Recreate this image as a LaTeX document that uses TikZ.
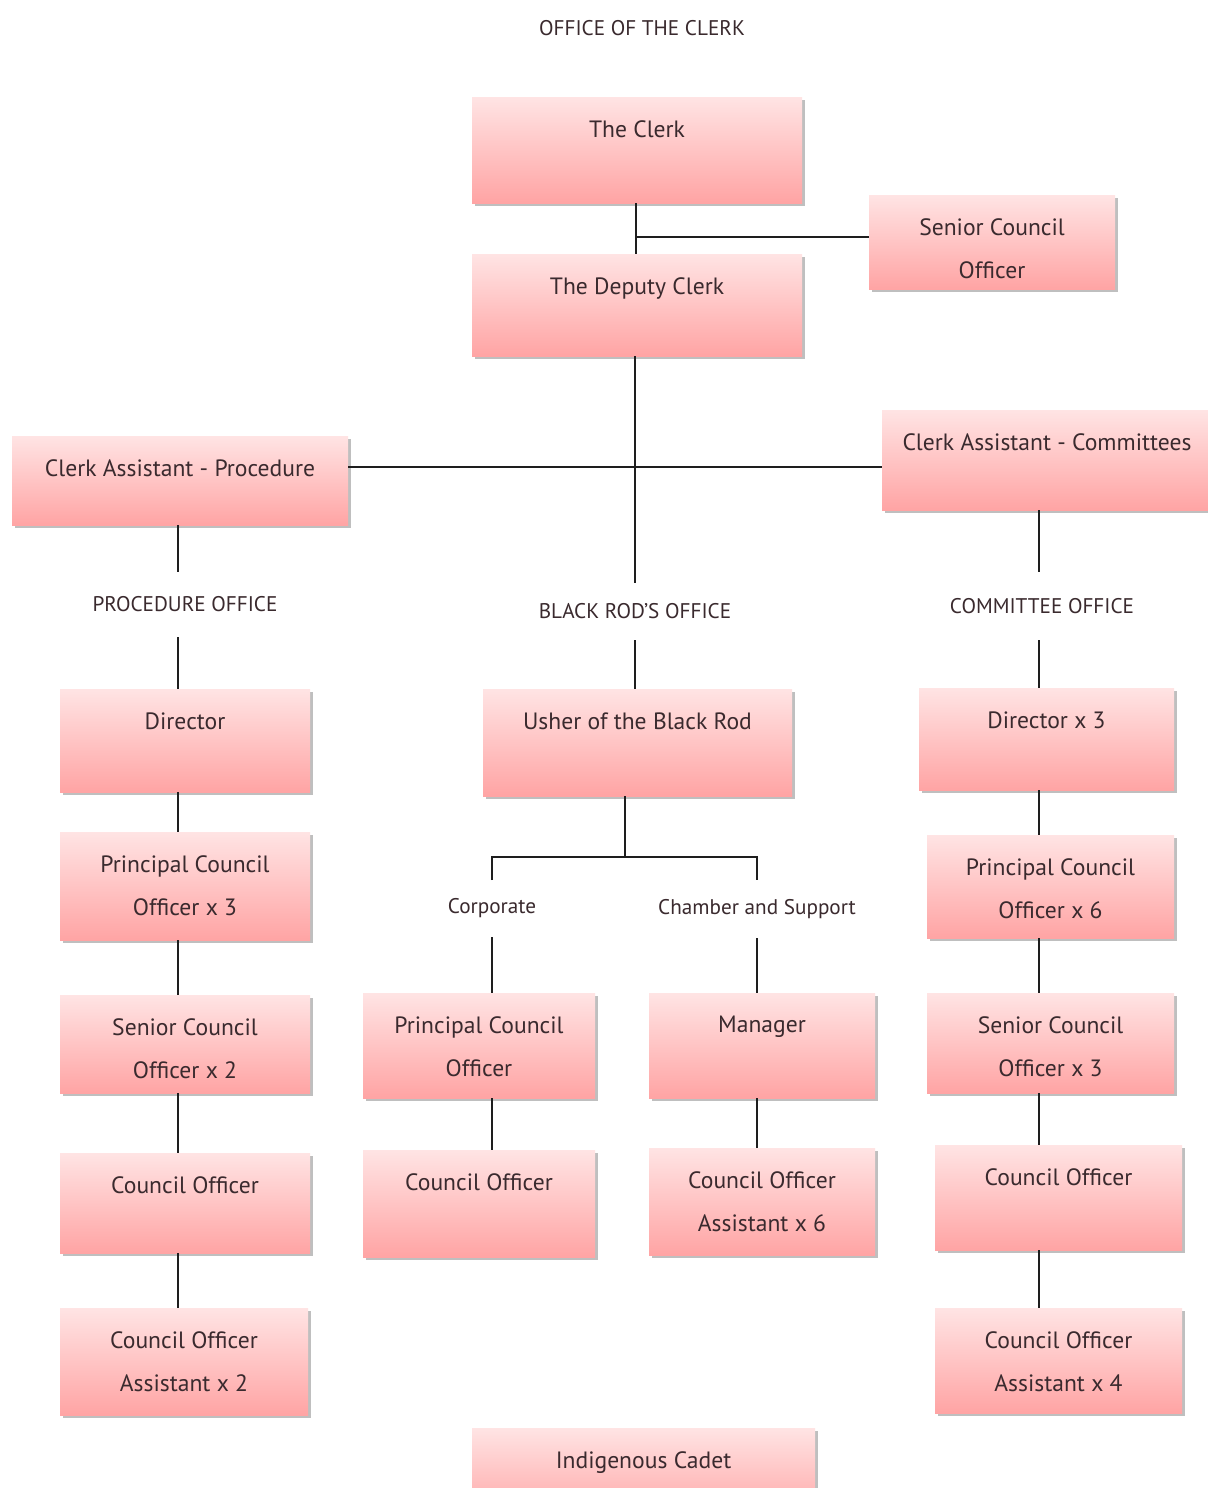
\documentclass[tikz,border=0pt]{standalone}
\usepackage{fontspec}
\setmainfont{PT Sans}
\usetikzlibrary{shadows,calc}
\definecolor{pinkT}{HTML}{FFE4E4}
\definecolor{pinkM}{HTML}{FFD0D0}
\definecolor{pinkB}{HTML}{FFA4A4}
\definecolor{txtcol}{HTML}{3A2A2E}
\definecolor{linecol}{HTML}{1E1E1E}
\tikzset{
  box/.style={draw=none, inner sep=0pt, outer sep=0pt,
    top color=pinkT, middle color=pinkM, bottom color=pinkB,
    drop shadow={shadow xshift=1.6pt, shadow yshift=-1.6pt, opacity=0.45, fill=black!55}},
  btxt/.style={anchor=north, yshift=-11.5pt, inner sep=0pt, align=center, text=txtcol,
    font=\fontsize{11.8}{21.5}\selectfont},
  lbl/.style={inner sep=0pt, outer sep=0pt, text=txtcol, font=\fontsize{10.6}{13}\selectfont},
  conn/.style={draw=linecol, line width=1pt}
}
\newcommand\bx[6]{\node[box, minimum width={(#4-#2)*0.5pt}, minimum height={(#5-#3)*0.5pt},
  label={[btxt]north:{#6}}] (#1) at ({(#2+#4)/2},{(#3+#5)/2}) {};}
\begin{document}
\begin{tikzpicture}[x=0.5pt,y=-0.5pt]
\useasboundingbox[fill=white] (0,0) rectangle (1208,1488);
\node[lbl] (title) at (642,28) {OFFICE OF THE CLERK};
\bx{clerk}{472}{97}{802}{203}{The Clerk}
\bx{sco}{869}{195}{1115}{289}{Senior Council\\Officer}
\bx{deputy}{472}{254}{802}{356}{The Deputy Clerk}
\bx{cap}{12}{436}{348}{525}{Clerk Assistant - Procedure}
\bx{cac}{882}{410}{1212}{510}{Clerk Assistant - Committees}
\bx{dirL}{60}{689}{310}{792}{Director}
\bx{usher}{483}{689}{792}{796}{Usher of the Black Rod}
\bx{dirR}{919}{688}{1174}{790}{Director x 3}
\bx{pcoL}{60}{832}{310}{940}{Principal Council\\Officer x 3}
\bx{pcoR}{927}{835}{1174}{938}{Principal Council\\Officer x 6}
\bx{scoL}{60}{995}{310}{1093}{Senior Council\\Officer x 2}
\bx{pcoM}{363}{993}{595}{1098}{Principal Council\\Officer}
\bx{mgr}{649}{993}{875}{1098}{Manager}
\bx{scoR}{927}{993}{1174}{1093}{Senior Council\\Officer x 3}
\bx{coL}{60}{1153}{310}{1253}{Council Officer}
\bx{coM}{363}{1150}{595}{1257}{Council Officer}
\bx{coaM}{649}{1148}{875}{1255}{Council Officer\\Assistant x 6}
\bx{coR}{935}{1145}{1182}{1250}{Council Officer}
\bx{coaL}{60}{1308}{308}{1415}{Council Officer\\Assistant x 2}
\bx{coaR}{935}{1308}{1182}{1413}{Council Officer\\Assistant x 4}
\bx{cadet}{472}{1428}{815}{1520}{Indigenous Cadet}
% section labels
\node[lbl, minimum height=32.5pt] (proclbl) at (185,604.5) {PROCEDURE OFFICE};
\node[lbl, minimum height=28.5pt] (blacklbl) at (635,611.5) {BLACK ROD'S OFFICE};
\node[lbl, minimum height=34pt] (comlbl) at (1042,606) {COMMITTEE OFFICE};
\node[lbl, minimum height=28.5pt] (corplbl) at (492,908.5) {Corporate};
\node[lbl, minimum height=29pt] (chamlbl) at (757,909) {Chamber and Support};
% helper coordinates
\coordinate (j0) at (636,237);
\coordinate (j1) at (635,467);
\coordinate (j2) at (625,857);
\coordinate (xL) at (178,0);
\coordinate (xR) at (1039,0);
% top
\draw[conn] (clerk.south -| j0) -- (deputy.north -| j0);
\draw[conn] (j0) -- (sco.west |- j0);
\draw[conn] (deputy.south -| blacklbl) -- (blacklbl.north);
\draw[conn] (cap.east |- j1) -- (cac.west |- j1);
% procedure column
\draw[conn] (cap.south -| xL) -- (proclbl.north -| xL);
\draw[conn] (proclbl.south -| xL) -- (dirL.north -| xL);
\draw[conn] (dirL.south -| xL) -- (pcoL.north -| xL);
\draw[conn] (pcoL.south -| xL) -- (scoL.north -| xL);
\draw[conn] (scoL.south -| xL) -- (coL.north -| xL);
\draw[conn] (coL.south -| xL) -- (coaL.north -| xL);
% black rod column
\draw[conn] (blacklbl.south) -- (usher.north -| blacklbl);
\draw[conn] (usher.south -| j2) -- (j2);
\draw[conn] (corplbl.north) -- (corplbl.north |- j2) -- (chamlbl.north |- j2) -- (chamlbl.north);
\draw[conn] (corplbl.south) -- (pcoM.north -| corplbl);
\draw[conn] (pcoM.south -| corplbl) -- (coM.north -| corplbl);
\draw[conn] (chamlbl.south) -- (mgr.north -| chamlbl);
\draw[conn] (mgr.south -| chamlbl) -- (coaM.north -| chamlbl);
% committee column
\draw[conn] (cac.south -| xR) -- (comlbl.north -| xR);
\draw[conn] (comlbl.south -| xR) -- (dirR.north -| xR);
\draw[conn] (dirR.south -| xR) -- (pcoR.north -| xR);
\draw[conn] (pcoR.south -| xR) -- (scoR.north -| xR);
\draw[conn] (scoR.south -| xR) -- (coR.north -| xR);
\draw[conn] (coR.south -| xR) -- (coaR.north -| xR);
\end{tikzpicture}
\end{document}
